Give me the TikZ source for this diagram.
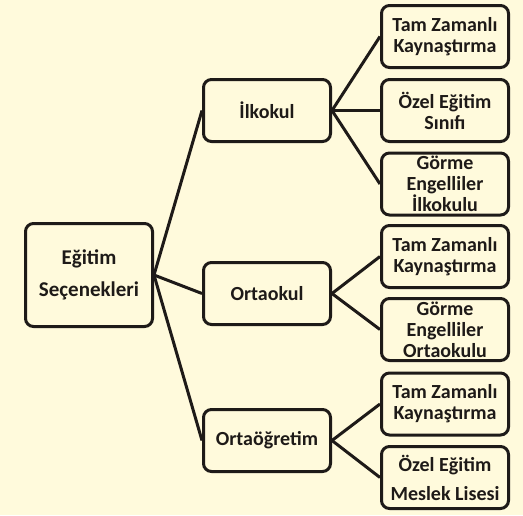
\documentclass[tikz,border=0pt]{standalone}
\usepackage{fontspec}
\setmainfont{Carlito}
\definecolor{krem}{RGB}{255,250,220}
\definecolor{koyu}{RGB}{30,26,24}
\tikzset{kutu/.style={draw=koyu, line width=3pt, rounded corners=8pt, fill=krem, minimum width=127pt, minimum height=62pt, inner sep=0pt, align=center, text=koyu, font=\bfseries\fontsize{20}{21}\selectfont},
  bag/.style={draw=koyu, line width=3pt}}

\begin{document}
\begin{tikzpicture}[x=1pt,y=-1pt]
        \fill[krem] (0,0) rectangle (523,515);
        \useasboundingbox (0,0) rectangle (523,515);
        \node[kutu, minimum height=103pt, font=\bfseries\fontsize{21}{22}\selectfont] (kok) at (89,275) {Eğitim\\[10pt]Seçenekleri};
        \node[kutu] (ilk) at (267,110.5) {İlkokul};
        \node[kutu] (orta) at (267,293.5) {Ortaokul};
        \node[kutu] (lise) at (267,440.5) {Ortaöğretim};
        \node[kutu] (ilkA) at (445,36.5) {Tam Zamanlı\\Kaynaştırma};
        \node[kutu] (ilkB) at (445,110.5) {Özel Eğitim\\Sınıfı};
        \node[kutu] (ilkC) at (445,184) {Görme\\Engelliler\\İlkokulu};
        \node[kutu] (ortaA) at (445,256.5) {Tam Zamanlı\\Kaynaştırma};
        \node[kutu] (ortaB) at (445,329.5) {Görme\\Engelliler\\Ortaokulu};
        \node[kutu] (liseA) at (445,404) {Tam Zamanlı\\Kaynaştırma};
        \node[kutu] (liseB) at (445,477.5) {Özel Eğitim\\[8pt]Meslek Lisesi};
        \draw[bag] (kok.east) -- (ilk.west);
        \draw[bag] (kok.east) -- (orta.west);
        \draw[bag] (kok.east) -- (lise.west);
        \draw[bag] (ilk.east) -- (ilkA.west);
        \draw[bag] (ilk.east) -- (ilkB.west);
        \draw[bag] (ilk.east) -- (ilkC.west);
        \draw[bag] (orta.east) -- (ortaA.west);
        \draw[bag] (orta.east) -- (ortaB.west);
        \draw[bag] (lise.east) -- (liseA.west);
        \draw[bag] (lise.east) -- (liseB.west);
      \end{tikzpicture}
\end{document}
